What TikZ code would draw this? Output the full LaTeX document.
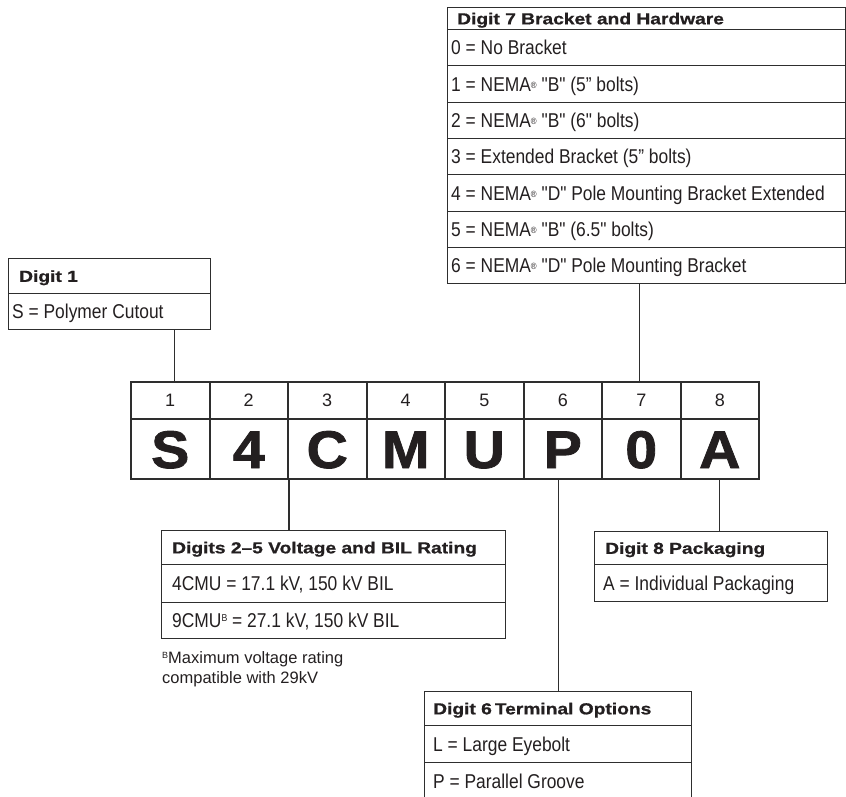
\documentclass[tikz,border=0pt]{standalone}
\usepackage{fontspec}
\setmainfont{Liberation Sans}
\newfontfamily\bodyf{Liberation Sans}[FakeStretch=0.87]
\newfontfamily\hdrf{Liberation Sans}[FakeStretch=1.2,FakeBold=0.8]
\newfontfamily\bigf{Liberation Sans}[FakeStretch=1.08,FakeBold=1.5]
\definecolor{ink}{HTML}{231F20}
\definecolor{lc}{HTML}{2E2E2E}
\newcommand{\regm}{{\fontsize{9}{9}\selectfont\raisebox{3pt}{®}}}
\newcommand{\supB}{{\fontsize{10}{10}\selectfont\raisebox{6pt}{B}}}
\begin{document}
\begin{tikzpicture}[x=1pt,y=-1pt,
  every node/.style={text=ink},
  boxrow/.style={draw=lc, line width=1.2pt, anchor=north west, inner sep=0pt},
  hdrtxt/.style={anchor=west, inner sep=0pt, text height=11.5pt, text depth=0pt,
     font=\hdrf\bfseries\fontsize{16}{16}\selectfont},
  bodytxt/.style={anchor=west, inner sep=0pt, text height=14.3pt, text depth=0pt,
     font=\bodyf\fontsize{20}{20}\selectfont},
  cell/.style={draw=lc, line width=2pt, anchor=north west, inner sep=0pt, minimum width=78.5pt},
  numcell/.style={cell, minimum height=37pt, text height=12.9pt, text depth=0pt,
     font=\fontsize{18}{18}\selectfont},
  letcell/.style={cell, minimum height=60pt, text height=38pt, text depth=0pt,
     font=\bigf\bfseries\fontsize{53}{53}\selectfont},
  conn/.style={draw=lc, line width=1.1pt},
  foot/.style={anchor=base west, inner sep=0pt,
     font=\fontsize{16.5}{20.5}\selectfont}
]
\useasboundingbox (0,0) rectangle (846,797);

% ---- code table ----
\foreach \i/\n/\l in {1/1/S,2/2/4,3/3/C,4/4/M,5/5/U,6/6/P,7/7/0,8/8/A}{
  \node[numcell] (n\i) at ({130+(\i-1)*78.5},381) {\n};
  \node[letcell] (l\i) at ({130+(\i-1)*78.5},418) {\l};
}

% ---- Digit 7 ----
\node[boxrow, minimum width=398pt, minimum height=22pt] (d7h) at (447,7) {};
\node[hdrtxt] (d7ht) at ([xshift=10pt]d7h.west) {Digit 7 Bracket and Hardware};
\foreach \k/\t in {0/{0 = No Bracket},
                   1/{1 = NEMA\regm{} "B" (5” bolts)},
                   2/{2 = NEMA\regm{} "B" (6" bolts)},
                   3/{3 = Extended Bracket (5” bolts)},
                   4/{4 = NEMA\regm{} "D" Pole Mounting Bracket Extended},
                   5/{5 = NEMA\regm{} "B" (6.5" bolts)},
                   6/{6 = NEMA\regm{} "D" Pole Mounting Bracket}}{
  \node[boxrow, minimum width=398pt, minimum height=36.3pt] (d7r\k) at (447,{29+36.3*\k}) {};
  \node[bodytxt] (d7t\k) at ([xshift=4pt]d7r\k.west) {\t};
}

% ---- Digit 1 ----
\node[boxrow, minimum width=202pt, minimum height=35pt] (d1h) at (8,258) {};
\node[hdrtxt] (d1ht) at ([xshift=11pt]d1h.west) {Digit 1};
\node[boxrow, minimum width=202pt, minimum height=36pt] (d1r) at (8,293) {};
\node[bodytxt] (d1t) at ([xshift=4pt]d1r.west) {S = Polymer Cutout};

% ---- Digits 2-5 ----
\node[boxrow, minimum width=344pt, minimum height=34pt] (d25h) at (161,530) {};
\node[hdrtxt] (d25ht) at ([xshift=11pt]d25h.west) {Digits 2–5 Voltage and BIL Rating};
\node[boxrow, minimum width=344pt, minimum height=38pt] (d25a) at (161,564) {};
\node[bodytxt] (d25at) at ([xshift=11pt]d25a.west) {4CMU = 17.1 kV, 150 kV BIL};
\node[boxrow, minimum width=344pt, minimum height=36pt] (d25b) at (161,602) {};
\node[bodytxt] (d25bt) at ([xshift=11pt]d25b.west) {9CMU\supB{} = 27.1 kV, 150 kV BIL};
\node[foot] (fn1) at (162,663) {{\fontsize{9}{9}\selectfont\raisebox{5pt}{B}}Maximum voltage rating};
\node[foot] (fn2) at (162,683) {compatible with 29kV};

% ---- Digit 8 ----
\node[boxrow, minimum width=233pt, minimum height=33pt] (d8h) at (594,531) {};
\node[hdrtxt] (d8ht) at ([xshift=11pt]d8h.west) {Digit 8 Packaging};
\node[boxrow, minimum width=233pt, minimum height=37pt] (d8r) at (594,564) {};
\node[bodytxt] (d8t) at ([xshift=9pt]d8r.west) {A = Individual Packaging};

% ---- Digit 6 ----
\node[boxrow, minimum width=267pt, minimum height=34pt] (d6h) at (424,691) {};
\node[hdrtxt] (d6ht) at ([xshift=9pt]d6h.west) {Digit 6\hspace{3pt}Terminal Options};
\node[boxrow, minimum width=267pt, minimum height=37pt] (d6a) at (424,725) {};
\node[bodytxt] (d6at) at ([xshift=9pt]d6a.west) {L = Large Eyebolt};
\node[boxrow, minimum width=267pt, minimum height=38pt] (d6b) at (424,762) {};
\node[bodytxt] (d6bt) at ([xshift=9pt]d6b.west) {P = Parallel Groove};

% ---- connectors ----
\coordinate (k1) at ([xshift=4pt]n1.north);
\draw[conn] (k1) -- (k1 |- d1r.south);
\coordinate (k7) at ([xshift=-2pt]n7.north);
\draw[conn] (k7) -- (k7 |- d7r6.south);
\draw[conn] (l2.south east) -- (l2.south east |- d25h.north);
\coordinate (k6) at ([xshift=-4pt]l6.south);
\draw[conn] (k6) -- (k6 |- d6h.north);
\draw[conn] (l8.south) -- (l8.south |- d8h.north);
\end{tikzpicture}
\end{document}
